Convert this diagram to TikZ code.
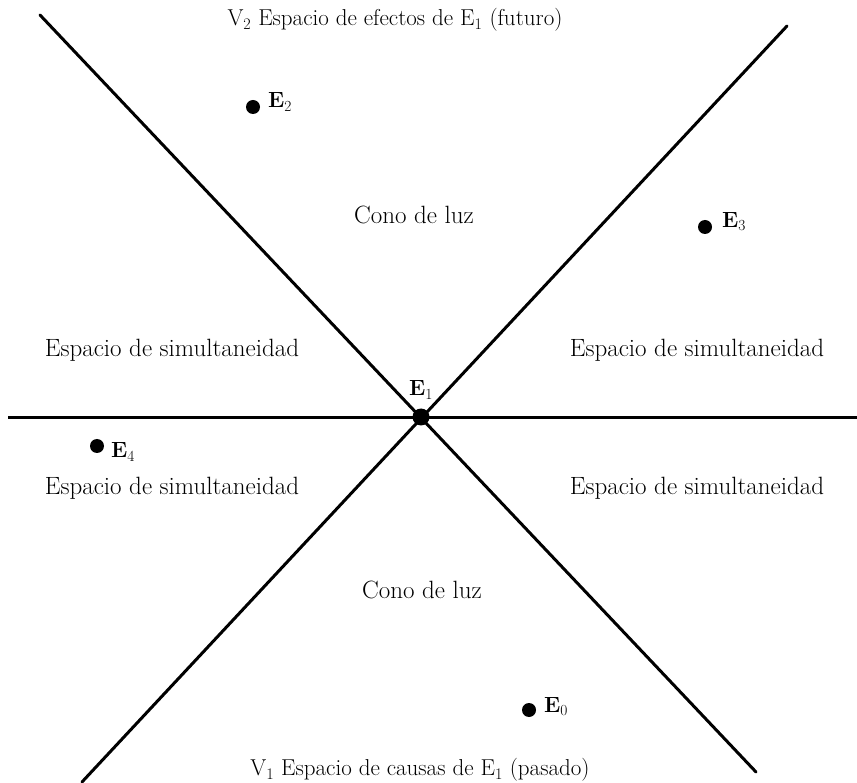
\documentclass[tikz,border=0pt]{standalone}
\begin{document}
\begin{tikzpicture}[x=1pt,y=-1pt,
  axis/.style={line width=3pt,line cap=round},
  txt/.style={font=\fontsize{25}{30}\selectfont,inner sep=0pt},
  ttl/.style={font=\fontsize{23}{28}\selectfont,inner sep=0pt},
  lbl/.style={font=\fontsize{22}{26}\selectfont\bfseries,inner sep=0pt,anchor=west},
  ev/.style={circle,fill=black,inner sep=0pt,minimum size=14pt}]
\useasboundingbox (0,0) rectangle (857,783);
\coordinate (tl) at (40,15);
\coordinate (tr) at (787,26);
\coordinate (bl) at (82,782);
\coordinate (br) at (756,772);
\coordinate (hl) at (8,418);
\coordinate (hr) at (857,418);
\node[circle,fill=black,inner sep=0pt,minimum size=17pt] (e1) at (421,417) {};
\draw[axis] (tl) -- (br);
\draw[axis] (tr) -- (bl);
\draw[line width=3pt] (hl) -- (hr);
\node[ttl] (top) at (395,20) {V\textsubscript{2} Espacio de efectos de E\textsubscript{1} (futuro)};
\node[ttl] (bot) at (420,770) {V\textsubscript{1} Espacio de causas de E\textsubscript{1} (pasado)};
\node[txt] (c1) at (414,215) {Cono de luz};
\node[txt] (c2) at (422,590) {Cono de luz};
\node[txt] (s1) at (172,350) {Espacio de simultaneidad};
\node[txt] (s2) at (697,350) {Espacio de simultaneidad};
\node[txt] (s3) at (172,488) {Espacio de simultaneidad};
\node[txt] (s4) at (697,488) {Espacio de simultaneidad};
\node[font=\fontsize{22}{26}\selectfont\bfseries,inner sep=0pt] (l1) at (421,390) {E\textsubscript{\mdseries 1}};
\node[ev] (e2) at (253,107) {};
\node[lbl] (l2) at (268,102) {E\textsubscript{\mdseries 2}};
\node[ev] (e3) at (705,227) {};
\node[lbl] (l3) at (722,222) {E\textsubscript{\mdseries 3}};
\node[ev] (e4) at (97,446) {};
\node[lbl] (l4) at (111,452) {E\textsubscript{\mdseries 4}};
\node[ev] (e0) at (529,710) {};
\node[lbl] (l0) at (544,707) {E\textsubscript{\mdseries 0}};
\end{tikzpicture}
\end{document}
